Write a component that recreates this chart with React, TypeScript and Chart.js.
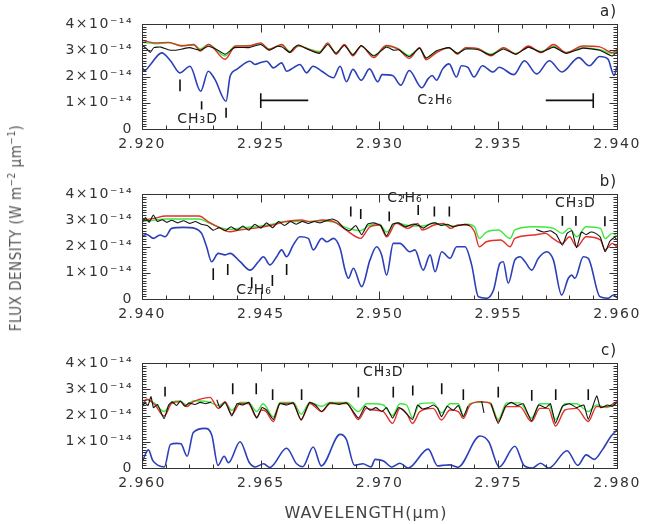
import React, { useEffect, useRef } from 'react';
import { Chart, registerables } from 'chart.js';
Chart.register(...registerables);

type P = [number, number | null];
type Mark = [number, number, number];
type Seg = [number, number, number, number];
type Lab = [string, number, number];

const yTicks = [0, 1, 2, 3, 4];
const aXTicks = [2.92, 2.925, 2.93, 2.935, 2.94];
const bXTicks = [2.94, 2.945, 2.95, 2.955, 2.96];
const cXTicks = [2.96, 2.965, 2.97, 2.975, 2.98];

// ---------- panel a ----------
const aBlue: P[] = [[2.92,2.38],[2.9201,2.22],[2.92035,2.45],[2.92083,2.9],[2.9212,2.6],[2.9216,2.14],[2.92202,2.39],[2.92247,1.44],[2.92279,2.2],[2.92307,1.89],[2.92354,1.06],[2.92371,2.01],[2.92399,2.27],[2.92455,2.58],[2.92476,2.46],[2.92497,2.52],[2.92525,2.58],[2.92553,2.33],[2.92588,2.52],[2.92609,2.2],[2.92637,2.33],[2.92665,2.46],[2.92693,2.14],[2.9272,2.39],[2.92757,2.2],[2.92806,1.95],[2.92834,2.39],[2.92861,1.8],[2.92888,2.27],[2.92923,1.86],[2.92958,2.29],[2.92993,1.8],[2.93011,2.07],[2.93055,2.04],[2.9309,1.67],[2.93125,2.23],[2.93178,1.57],[2.93205,1.92],[2.93222,2.04],[2.9324,1.86],[2.93266,2.29],[2.93293,2.48],[2.93324,1.98],[2.93345,2.41],[2.93372,2.35],[2.93398,1.98],[2.93433,2.41],[2.93478,2.17],[2.93504,2.35],[2.93566,2.07],[2.9361,2.6],[2.93662,2.1],[2.93715,2.6],[2.93768,2.17],[2.93839,2.72],[2.93883,2.41],[2.93927,2.76],[2.93962,2.66],[2.93988,2.04],[2.94,2.4]];
const aRed: P[] = [[2.92,3.38],[2.9206,3.28],[2.92113,3.3],[2.92166,3.16],[2.92218,3.22],[2.92245,2.97],[2.9228,3.22],[2.9235,2.66],[2.92394,3.16],[2.92447,3.16],[2.925,3.28],[2.92535,3.03],[2.92588,3.22],[2.92623,2.91],[2.92659,3.18],[2.92703,3.03],[2.92747,2.91],[2.92782,3.28],[2.92817,2.85],[2.92852,3.22],[2.92888,2.79],[2.92923,3.16],[2.92976,2.72],[2.93028,3.18],[2.93081,3.03],[2.93125,2.69],[2.93169,3.1],[2.93196,2.64],[2.9324,2.91],[2.93293,3.1],[2.93328,2.85],[2.93363,3.1],[2.93416,3.06],[2.93469,2.79],[2.93522,3.1],[2.93574,2.85],[2.93627,3.16],[2.9368,2.91],[2.93733,3.22],[2.93786,2.91],[2.93856,3.16],[2.93927,3.13],[2.93979,2.91],[2.94,3.03]];
const aGreen: P[] = [[2.92,3.3],[2.9206,3.25],[2.9211,3.28],[2.9217,3.18],[2.9222,3.2],[2.92245,3.05],[2.9228,3.22],[2.9235,2.78],[2.9239,3.15],[2.9245,3.18],[2.925,3.25],[2.92535,3.05],[2.9259,3.2],[2.92623,2.95],[2.92659,3.16],[2.92703,3.05],[2.92747,2.95],[2.92782,3.25],[2.92817,2.9],[2.92852,3.2],[2.92888,2.85],[2.92923,3.15],[2.92976,2.8],[2.93028,3.15],[2.93081,3.05],[2.93125,2.8],[2.93169,3.08],[2.93196,2.72],[2.9324,2.95],[2.93293,3.08],[2.93328,2.9],[2.93363,3.08],[2.93416,3.05],[2.93469,2.85],[2.93522,3.08],[2.93574,2.88],[2.93627,3.12],[2.9368,2.95],[2.93733,3.15],[2.93786,2.92],[2.93856,3.1],[2.93927,3.02],[2.93979,2.88],[2.94,3.0]];
const aBlack: P[] = [[2.92,3.2],[2.9202,3.05],[2.92035,2.92],[2.9205,3.1],[2.9208,3.12],[2.9211,3.02],[2.9214,3.0],[2.9217,3.05],[2.922,3.1],[2.92245,3.0],[2.9228,3.15],[2.9232,3.0],[2.9235,2.85],[2.9239,3.1],[2.9245,3.1],[2.925,3.22],[2.92535,3.0],[2.9257,3.15],[2.9259,3.12],[2.92623,2.92],[2.9264,3.1],[2.92659,3.2],[2.92703,3.02],[2.92747,2.88],[2.92782,3.22],[2.92817,2.88],[2.92852,3.18],[2.92888,2.82],[2.92923,3.18],[2.92976,2.78],[2.93028,3.12],[2.9306,3.0],[2.93081,3.02],[2.93125,2.75],[2.93169,3.08],[2.93196,2.7],[2.9324,2.98],[2.93293,3.1],[2.93328,2.88],[2.93363,3.05],[2.93416,3.02],[2.93469,2.82],[2.93522,3.05],[2.93574,2.85],[2.93627,3.12],[2.9368,2.93],[2.93733,3.12],[2.93786,2.88],[2.93856,3.08],[2.93927,3.0],[2.93979,2.78],[2.94,2.95]];
const aMarks: Mark[] = [[2.9216,1.44,1.89],[2.92251,0.74,1.06],[2.92354,0.43,0.81]];
const aSegs: Seg[] = [[2.925,0.8,2.925,1.36],[2.925,1.09,2.927,1.09],[2.937,1.09,2.939,1.09],[2.939,0.8,2.939,1.36]];
const aLabels: Lab[] = [['CH₃D',2.92234,0.36],['C₂H₆',2.93234,1.09]];

// ---------- panel b ----------
const bBlue: P[] = [[2.94,2.4],[2.9402,2.46],[2.94048,2.31],[2.94076,2.44],[2.94097,2.37],[2.94125,2.69],[2.94174,2.73],[2.94223,2.69],[2.94251,2.5],[2.94272,1.99],[2.94293,1.42],[2.94321,1.74],[2.94349,1.68],[2.94371,1.74],[2.94413,1.42],[2.94455,1.1],[2.9449,1.42],[2.94511,1.61],[2.94539,1.3],[2.94567,1.61],[2.94588,1.87],[2.94609,1.61],[2.94637,2.06],[2.94665,2.37],[2.947,2.31],[2.94721,1.87],[2.94757,2.31],[2.94778,2.18],[2.94806,2.31],[2.94834,1.93],[2.94855,1.1],[2.94869,0.79],[2.9489,1.17],[2.94925,0.47],[2.9496,1.49],[2.94988,1.99],[2.95009,1.68],[2.9503,0.91],[2.95058,2.12],[2.95086,2.12],[2.95128,1.8],[2.95149,1.87],[2.95184,1.1],[2.95213,1.68],[2.95234,1.04],[2.95262,1.8],[2.95297,1.55],[2.95325,1.99],[2.9536,1.99],[2.95388,1.3],[2.95416,0.09],[2.95452,0.03],[2.9548,0.34],[2.95507,1.36],[2.95521,1.42],[2.95542,0.6],[2.9557,1.49],[2.95592,1.61],[2.95613,1.42],[2.95641,1.1],[2.95669,1.55],[2.95704,1.8],[2.95732,1.49],[2.95767,0.15],[2.95795,0.79],[2.95809,0.91],[2.95823,0.79],[2.95858,1.61],[2.95879,1.55],[2.95928,0.09],[2.95963,0.03],[2.95985,0.15],[2.96,0.05]];
const bRed: P[] = [[2.94,3.0],[2.9405,3.07],[2.941,3.16],[2.9424,3.16],[2.9428,2.94],[2.9432,2.75],[2.9437,2.56],[2.9441,2.63],[2.9447,2.69],[2.9455,2.82],[2.946,2.94],[2.9467,3.01],[2.9471,2.94],[2.9476,3.01],[2.9481,2.94],[2.9485,2.69],[2.9487,2.56],[2.9492,2.31],[2.9496,2.75],[2.95,2.82],[2.9503,2.37],[2.9507,2.88],[2.9512,2.69],[2.9516,2.88],[2.9518,2.63],[2.9523,2.82],[2.9527,2.88],[2.953,2.69],[2.9533,2.82],[2.9537,2.82],[2.954,2.56],[2.9542,1.99],[2.9545,2.18],[2.9551,2.25],[2.9555,1.99],[2.9557,2.31],[2.9565,2.44],[2.957,2.5],[2.9573,2.31],[2.9577,2.12],[2.958,2.37],[2.9583,1.99],[2.9587,2.37],[2.9593,2.25],[2.9595,1.87],[2.9598,2.12],[2.96,1.99]];
const bGreen: P[] = [[2.94,2.95],[2.9405,3.0],[2.941,3.05],[2.9424,3.05],[2.9428,2.9],[2.9433,2.72],[2.9437,2.65],[2.9441,2.7],[2.9447,2.75],[2.9455,2.85],[2.946,2.95],[2.9467,2.95],[2.9476,2.98],[2.9481,2.92],[2.9485,2.75],[2.9492,2.6],[2.9496,2.82],[2.95,2.85],[2.9503,2.55],[2.9507,2.9],[2.9512,2.8],[2.9518,2.78],[2.9523,2.88],[2.953,2.78],[2.9537,2.85],[2.954,2.75],[2.9542,2.31],[2.9545,2.55],[2.955,2.63],[2.9555,2.31],[2.9557,2.63],[2.9565,2.75],[2.9573,2.7],[2.9577,2.5],[2.958,2.7],[2.9583,2.37],[2.9587,2.75],[2.9593,2.69],[2.9595,2.3],[2.9598,2.5],[2.96,2.4]];
const bBlack: P[] = [[2.94,2.9],[2.94015,3.1],[2.9403,2.92],[2.94048,3.2],[2.94065,2.95],[2.94085,3.02],[2.94105,2.92],[2.94125,3.0],[2.9415,2.9],[2.94175,2.98],[2.942,2.88],[2.94225,2.95],[2.9425,2.85],[2.94275,2.8],[2.943,2.62],[2.94325,2.72],[2.9435,2.6],[2.94375,2.75],[2.944,2.62],[2.94425,2.78],[2.9445,2.62],[2.94475,2.85],[2.945,2.7],[2.94525,2.9],[2.9455,2.72],[2.94575,2.95],[2.946,2.8],[2.94625,2.95],[2.9465,2.85],[2.94675,2.95],[2.947,2.88],[2.94725,2.95],[2.9475,2.9],[2.94775,2.98],[2.948,3.05],[2.94825,2.95],[2.9485,2.7],[2.94875,2.6],[2.949,2.8],[2.94925,2.45],[2.9495,2.85],[2.94975,2.9],[2.95005,2.8],[2.9503,2.4],[2.95055,2.85],[2.9508,2.9],[2.9511,2.75],[2.9514,2.85],[2.95165,2.8],[2.95185,2.7],[2.9521,2.85],[2.95235,2.9],[2.9526,2.8],[2.95285,2.85],[2.9531,2.75],[2.95335,2.8],[2.9536,2.85],[2.9538,2.8],[2.9539,null],[2.9566,2.65],[2.9569,2.55],[2.9572,2.6],[2.95745,2.45],[2.9577,2.05],[2.9579,2.5],[2.9581,2.6],[2.9583,1.95],[2.9585,2.55],[2.9587,2.45],[2.9589,2.55],[2.9591,2.5],[2.9593,2.35],[2.9595,1.8],[2.9597,2.2],[2.9599,2.35],[2.96,2.25]];
const bMarks: Mark[] = [[2.943,0.72,1.17],[2.94361,0.91,1.33],[2.94462,0.41,0.83],[2.94549,0.5,0.91],[2.94609,0.91,1.33],[2.94879,3.14,3.52],[2.94921,3.05,3.43],[2.95041,2.96,3.33],[2.95163,3.2,3.58],[2.95231,3.14,3.52],[2.95294,3.14,3.52],[2.9577,2.79,3.16],[2.95827,2.79,3.16],[2.95949,2.77,3.15]];
const bLabels: Lab[] = [['C₂H₆',2.94472,0.34],['C₂H₆',2.95107,3.82],['CH₃D',2.95825,3.66]];

// ---------- panel c ----------
const cBlue: P[] = [[2.96,0.22],[2.96027,0.69],[2.96045,0.29],[2.96068,0.1],[2.96094,0.04],[2.9612,0.9],[2.96146,0.94],[2.96164,0.92],[2.9619,0.45],[2.96216,1.35],[2.96265,1.51],[2.96294,1.25],[2.9632,0.1],[2.96346,0.45],[2.96364,0.2],[2.96413,1.0],[2.96451,0.22],[2.96477,0.04],[2.96512,0.16],[2.96538,0.02],[2.96609,0.75],[2.96651,0.16],[2.96677,0.05],[2.96721,0.8],[2.96755,0.08],[2.96834,1.28],[2.9686,1.1],[2.96895,0.1],[2.9693,0.16],[2.96964,0.04],[2.96982,0.33],[2.97017,0.27],[2.97051,0.04],[2.97086,0.18],[2.97121,0.0],[2.97205,0.72],[2.97245,0.08],[2.97265,0.1],[2.97295,0.12],[2.9733,0.03],[2.97423,1.22],[2.9746,1.0],[2.97504,0.04],[2.9757,0.83],[2.97608,0.1],[2.97643,0.0],[2.97678,0.18],[2.97713,0.0],[2.9779,0.66],[2.97835,0.1],[2.9787,0.5],[2.97904,0.33],[2.97939,0.7],[2.97974,1.2],[2.98,1.45]];
const cRed: P[] = [[2.96,2.34],[2.9602,2.62],[2.96055,2.4],[2.96093,1.98],[2.96125,2.46],[2.9616,2.53],[2.96188,2.34],[2.96216,2.53],[2.96244,2.62],[2.96286,2.69],[2.96322,2.27],[2.9635,2.53],[2.96378,2.05],[2.96413,2.46],[2.96448,2.46],[2.96483,1.93],[2.96504,2.21],[2.96522,2.15],[2.96553,1.77],[2.96581,2.46],[2.96637,2.46],[2.9667,1.85],[2.96707,2.46],[2.96757,2.15],[2.96792,2.46],[2.96862,2.46],[2.96911,1.85],[2.96946,2.27],[2.96974,2.21],[2.97016,2.15],[2.97055,1.7],[2.97086,2.27],[2.97114,2.08],[2.97139,1.7],[2.9717,2.15],[2.97226,2.27],[2.97261,1.83],[2.97297,2.21],[2.97332,2.15],[2.97353,1.89],[2.97381,2.4],[2.97423,2.53],[2.97465,2.46],[2.975,1.77],[2.97535,2.34],[2.97591,2.34],[2.9764,1.77],[2.97675,2.27],[2.97711,2.27],[2.97741,1.6],[2.97781,2.21],[2.9783,2.27],[2.97879,1.77],[2.97914,2.34],[2.97956,2.34],[2.98,2.53]];
const cGreen: P[] = [[2.96,2.55],[2.9602,2.6],[2.96055,2.45],[2.96093,2.15],[2.96125,2.5],[2.9616,2.55],[2.96188,2.4],[2.96216,2.55],[2.96244,2.55],[2.96286,2.5],[2.96322,2.38],[2.9635,2.5],[2.96378,2.2],[2.96413,2.5],[2.96448,2.5],[2.96483,2.15],[2.9651,2.45],[2.96553,1.95],[2.96581,2.5],[2.96637,2.5],[2.9667,2.05],[2.96707,2.5],[2.96757,2.35],[2.96792,2.5],[2.96862,2.5],[2.96911,2.15],[2.96946,2.45],[2.96974,2.45],[2.97016,2.4],[2.97055,2.0],[2.97086,2.45],[2.97114,2.4],[2.97139,1.92],[2.9717,2.45],[2.97226,2.48],[2.97261,2.1],[2.97297,2.45],[2.97332,2.45],[2.97353,2.0],[2.97381,2.45],[2.97423,2.5],[2.97465,2.5],[2.975,1.85],[2.97535,2.48],[2.97591,2.48],[2.9764,1.9],[2.97675,2.45],[2.97711,2.45],[2.97741,1.85],[2.97781,2.45],[2.9783,2.45],[2.97879,2.15],[2.97914,2.4],[2.97956,2.3],[2.98,2.5]];
const cBlack: P[] = [[2.96,2.3],[2.96012,2.48],[2.96025,2.38],[2.96038,2.72],[2.96048,2.3],[2.96065,2.42],[2.96093,1.88],[2.96112,2.4],[2.96128,2.52],[2.96145,2.38],[2.96162,2.55],[2.9618,2.35],[2.96198,2.48],[2.96222,2.42],[2.96245,2.5],[2.96268,2.45],[2.96292,2.52],[2.96305,null],[2.96315,2.6],[2.96328,2.3],[2.9635,2.5],[2.96378,1.98],[2.964,2.45],[2.96425,2.4],[2.9645,2.5],[2.96483,1.9],[2.96505,2.3],[2.96525,2.2],[2.96553,1.85],[2.9658,2.45],[2.9661,2.4],[2.96637,2.48],[2.9667,1.82],[2.96705,2.5],[2.9673,2.4],[2.96757,2.15],[2.9679,2.48],[2.9683,2.42],[2.96862,2.48],[2.96911,1.9],[2.9694,2.35],[2.9696,2.2],[2.96985,2.3],[2.9701,2.15],[2.9703,2.3],[2.97055,1.9],[2.9708,2.3],[2.971,2.2],[2.97139,1.85],[2.9716,2.4],[2.9718,2.25],[2.97205,2.3],[2.97226,2.4],[2.97245,2.28],[2.97261,1.95],[2.97285,2.35],[2.9731,2.2],[2.97332,2.38],[2.97353,1.95],[2.97372,2.35],[2.97385,null],[2.9743,2.55],[2.9744,2.1],[2.9745,null],[2.9747,2.45],[2.975,1.7],[2.9753,2.35],[2.97555,2.5],[2.9758,2.38],[2.97605,2.45],[2.9764,1.8],[2.9767,2.4],[2.977,2.3],[2.9772,2.45],[2.97741,1.7],[2.9777,2.35],[2.978,2.45],[2.9783,2.3],[2.9786,2.4],[2.97879,1.85],[2.979,2.4],[2.97915,2.75],[2.9793,2.3],[2.9796,2.4],[2.9798,2.35],[2.98,2.5]];
const cMarks: Mark[] = [[2.96097,2.72,3.1],[2.96382,2.81,3.23],[2.96481,2.81,3.23],[2.9655,2.59,3.0],[2.96672,2.59,3.0],[2.96911,2.69,3.1],[2.97058,2.69,3.1],[2.9714,2.76,3.14],[2.97262,2.81,3.23],[2.97353,2.59,3.0],[2.975,2.69,3.1],[2.97641,2.56,2.97],[2.97742,2.59,3.0],[2.97879,2.59,3.0]];
const cLabels: Lab[] = [['CH₃D',2.97016,3.66]];

const COL_BLACK = '#111111';
const COL_RED = '#e2302a';
const COL_GREEN = '#3ee83e';
const COL_BLUE = '#2b3fb8';
const TEXT = '#333333';
const FONT = '"DejaVu Sans", sans-serif';

interface PanelCfg {
  letter: string; top: number; xTicks: number[];
  blue: P[]; red: P[]; green: P[]; black: P[];
  marks: Mark[]; segs: Seg[]; labels: Lab[];
}

const panels: PanelCfg[] = [
  { letter: 'a)', top: 24, xTicks: aXTicks, blue: aBlue, red: aRed, green: aGreen, black: aBlack, marks: aMarks, segs: aSegs, labels: aLabels },
  { letter: 'b)', top: 194, xTicks: bXTicks, blue: bBlue, red: bRed, green: bGreen, black: bBlack, marks: bMarks, segs: [], labels: bLabels },
  { letter: 'c)', top: 363, xTicks: cXTicks, blue: cBlue, red: cRed, green: cGreen, black: cBlack, marks: cMarks, segs: [], labels: cLabels },
];

const PAD_TOP = 26;
const PLOT_H = 105;
const X_AXIS_H = 45;
const CANVAS_H = PAD_TOP + PLOT_H + X_AXIS_H;

const toXY = (arr: P[]) => arr.map(([x, y]) => ({ x, y }));

const framePlugin = {
  id: 'frame',
  beforeDraw(chart: any) {
    (chart.ctx as any).letterSpacing = '1.5px';
  },
  afterDatasetsDraw(chart: any, _args: any, opts: any) {
    const cfg: PanelCfg = opts.cfg;
    const { ctx, chartArea: a, scales } = chart;
    const x = scales.x, y = scales.y;
    ctx.save();
    (ctx as any).letterSpacing = '0px';
    ctx.strokeStyle = '#333';
    ctx.lineWidth = 1;
    const L = Math.round(a.left) + 0.5, R = Math.round(a.right) + 0.5;
    const T = Math.round(a.top) + 0.5, B = Math.round(a.bottom) + 0.5;
    ctx.strokeRect(L, T, R - L, B - T);
    ctx.beginPath();
    const xmin = x.min, xmax = x.max;
    const nX = Math.round((xmax - xmin) / 0.001);
    for (let i = 0; i <= nX; i++) {
      const px = Math.round(x.getPixelForValue(xmin + i * 0.001)) + 0.5;
      const len = i % 5 === 0 ? 8 : 4;
      ctx.moveTo(px, B); ctx.lineTo(px, B - len);
      ctx.moveTo(px, T); ctx.lineTo(px, T + len);
    }
    for (let i = 0; i <= 40; i++) {
      const py = Math.round(y.getPixelForValue(i * 0.1)) + 0.5;
      const len = i % 10 === 0 ? 8 : 4;
      ctx.moveTo(L, py); ctx.lineTo(L + len, py);
      ctx.moveTo(R, py); ctx.lineTo(R - len, py);
    }
    ctx.stroke();

    ctx.strokeStyle = '#111';
    ctx.lineWidth = 1.6;
    ctx.beginPath();
    for (const [lx, y0, y1] of cfg.marks) {
      const px = x.getPixelForValue(lx);
      ctx.moveTo(px, y.getPixelForValue(y0));
      ctx.lineTo(px, y.getPixelForValue(y1));
    }
    for (const [x0, y0, x1, y1] of cfg.segs) {
      ctx.moveTo(x.getPixelForValue(x0), y.getPixelForValue(y0));
      ctx.lineTo(x.getPixelForValue(x1), y.getPixelForValue(y1));
    }
    ctx.stroke();

    (ctx as any).letterSpacing = '1px';
    ctx.fillStyle = '#222';
    ctx.font = `14px ${FONT}`;
    ctx.textAlign = 'center';
    ctx.textBaseline = 'middle';
    for (const [t, lx, ly] of cfg.labels) {
      ctx.fillText(t, x.getPixelForValue(lx), y.getPixelForValue(ly));
    }
    ctx.font = `15px ${FONT}`;
    ctx.textAlign = 'right';
    ctx.fillText(cfg.letter, a.right, a.top - 12);
    ctx.restore();
  },
  afterDraw(chart: any) {
    (chart.ctx as any).letterSpacing = '0px';
  },
};

function Panel({ cfg }: { cfg: PanelCfg }) {
  const ref = useRef<HTMLCanvasElement>(null);
  useEffect(() => {
    const xmin = cfg.xTicks[0];
    const xmax = cfg.xTicks[cfg.xTicks.length - 1];
    const line = (data: P[], color: string, smooth: boolean, width: number) => ({
      data: toXY(data),
      borderColor: color,
      backgroundColor: color,
      borderWidth: width,
      pointRadius: 0,
      fill: false,
      spanGaps: false,
      tension: smooth ? 0.4 : 0.15,
      cubicInterpolationMode: smooth ? 'monotone' : 'default',
    });
    const chart = new Chart(ref.current as HTMLCanvasElement, {
      type: 'line',
      data: {
        datasets: [
          line(cfg.black, COL_BLACK, false, 1.1),
          line(cfg.red, COL_RED, true, 1.4),
          line(cfg.green, COL_GREEN, true, 1.4),
          line(cfg.blue, COL_BLUE, true, 1.6),
        ] as any,
      },
      options: {
        responsive: false,
        animation: false,
        devicePixelRatio: 1,
        events: [],
        layout: { padding: { top: PAD_TOP, right: 31, left: 0, bottom: 0 } },
        plugins: {
          legend: { display: false },
          tooltip: { enabled: false },
          frame: { cfg },
        } as any,
        scales: {
          x: {
            type: 'linear',
            min: xmin,
            max: xmax,
            afterBuildTicks: (s: any) => { s.ticks = cfg.xTicks.map((v) => ({ value: v })); },
            afterFit: (s: any) => { s.height = X_AXIS_H; },
            grid: { display: false, drawTicks: false },
            border: { display: false },
            ticks: {
              callback: (v: any) => Number(v).toFixed(3),
              maxRotation: 0,
              autoSkip: false,
              padding: 7,
              color: TEXT,
              font: { family: FONT, size: 14 },
            },
          },
          y: {
            type: 'linear',
            min: 0,
            max: 4,
            afterBuildTicks: (s: any) => { s.ticks = yTicks.map((v) => ({ value: v })); },
            afterFit: (s: any) => { s.width = 142; },
            grid: { display: false, drawTicks: false },
            border: { display: false },
            ticks: {
              callback: (v: any) => (Number(v) === 0 ? '0' : `${v}×10⁻¹⁴`),
              padding: 9,
              color: TEXT,
              font: { family: FONT, size: 14 },
            },
          },
        },
      } as any,
      plugins: [framePlugin as any],
    });
    return () => chart.destroy();
  }, [cfg]);
  return (
    <canvas
      ref={ref}
      width={648}
      height={CANVAS_H}
      style={{ position: 'absolute', left: 0, top: cfg.top - PAD_TOP, width: 648, height: CANVAS_H }}
    />
  );
}

export default function App() {
  return (
    <div style={{ position: 'absolute', left: 0, top: 0, width: 648, height: 524, background: '#fff', overflow: 'hidden' }}>
      {panels.map((p) => (
        <Panel key={p.letter} cfg={p} />
      ))}
      <div
        style={{
          position: 'absolute', left: 14, top: 228,
          transform: 'translate(-50%, -50%) rotate(-90deg)',
          whiteSpace: 'nowrap',
          fontFamily: '"DejaVu Sans Condensed", "DejaVu Sans", sans-serif',
          fontStretch: 'condensed',
          fontSize: 15, color: '#555', lineHeight: '18px', letterSpacing: '0.5px',
        }}
      >
        FLUX DENSITY (W m<sup style={{ fontSize: 10 }}>−2</sup> µm<sup style={{ fontSize: 10 }}>−1</sup>)
      </div>
      <div
        style={{
          position: 'absolute', left: 366, top: 512,
          transform: 'translate(-50%, -50%)',
          whiteSpace: 'nowrap',
          fontFamily: FONT, fontSize: 16, color: '#444', letterSpacing: '1px',
        }}
      >
        WAVELENGTH(µm)
      </div>
    </div>
  );
}
